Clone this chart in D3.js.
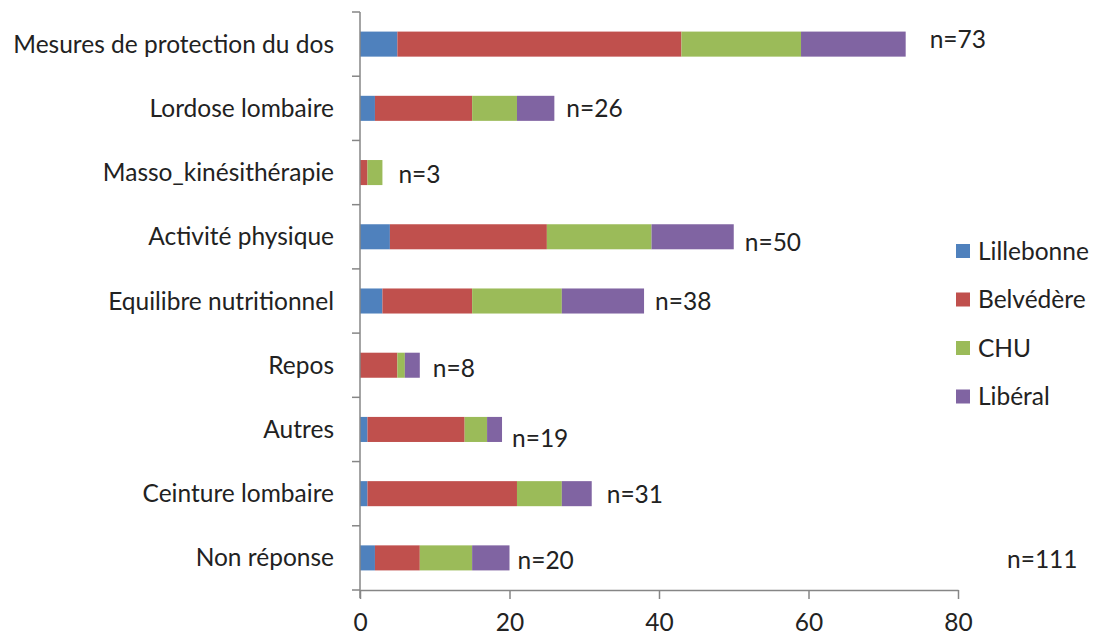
<!DOCTYPE html>
<html>
<head>
<meta charset="utf-8">
<script src="https://cdn.jsdelivr.net/npm/d3@7"></script>
<style>
  body { margin: 0; background: #fff; }
  text { font-family: Lato, "Open Sans", sans-serif; fill: #222; }
</style>
</head>
<body>
<div id="chart"></div>
<script>
// data
var categories = ["Mesures de protection du dos", "Lordose lombaire", "Masso_kinésithérapie",
  "Activité physique", "Equilibre nutritionnel", "Repos", "Autres", "Ceinture lombaire", "Non réponse"];
var seriesNames = ["Lillebonne", "Belvédère", "CHU", "Libéral"];
var lillebonne = [5, 2, 0, 4, 3, 0, 1, 1, 2];
var belvedere  = [38, 13, 1, 21, 12, 5, 13, 20, 6];
var chu        = [16, 6, 2, 14, 12, 1, 3, 6, 7];
var liberal    = [14, 5, 0, 11, 11, 2, 2, 4, 5];
var totalLabel = "n=111";
var xTicks = [0, 20, 40, 60, 80];

// hand-placed n= labels in the original, nudged from the bar end
var labelNudge = [[24, -5], [12, 0], [16, 2], [11, 6], [11, 0], [13, 3], [10, 9], [15, 1], [8, 3]];

var colors = ["#4F81BD", "#C0504D", "#9BBB59", "#8064A2"];

var width = 1099, height = 637;
var plotLeft = 360, plotRight = 958, plotTop = 12, plotBottom = 590;
var fontSize = "24.5px";

var rows = categories.map(function(c, i) {
  return {cat: c, Lillebonne: lillebonne[i], "Belvédère": belvedere[i], CHU: chu[i], "Libéral": liberal[i]};
});
var total = function(d) { return d.Lillebonne + d["Belvédère"] + d.CHU + d["Libéral"]; };

var svg = d3.select("#chart").append("svg")
  .attr("width", width).attr("height", height);

var x = d3.scaleLinear().domain([0, 80]).range([plotLeft, plotRight]);
var y = d3.scaleBand().domain(categories).range([plotTop, plotBottom]).paddingInner(0.61).paddingOuter(0.305);
var color = d3.scaleOrdinal().domain(seriesNames).range(colors);

var stack = d3.stack().keys(seriesNames)(rows);

svg.append("g").selectAll("g")
  .data(stack).enter().append("g")
  .attr("fill", function(d) { return color(d.key); })
  .selectAll("rect")
  .data(function(d) { return d; }).enter().append("rect")
  .attr("x", function(d) { return x(d[0]); })
  .attr("width", function(d) { return x(d[1]) - x(d[0]); })
  .attr("y", function(d) { return y(d.data.cat); })
  .attr("height", y.bandwidth());

// x axis
var xAxis = svg.append("g")
  .attr("transform", "translate(0," + plotBottom + ")")
  .call(d3.axisBottom(x).tickValues(xTicks).tickSize(9).tickPadding(15).tickSizeOuter(0));
xAxis.select(".domain").attr("stroke", "#868686").attr("stroke-width", 1.5);
xAxis.selectAll(".tick line").attr("stroke", "#868686").attr("stroke-width", 1.5);
xAxis.selectAll("text").style("font-size", fontSize).style("font-family", "Lato, sans-serif").attr("fill", "#222");

// y axis: line plus ticks at band boundaries
var nCat = categories.length;
svg.append("line").attr("x1", plotLeft).attr("x2", plotLeft).attr("y1", plotTop).attr("y2", plotBottom + 8)
  .attr("stroke", "#868686").attr("stroke-width", 1.5);
svg.append("g").selectAll("line")
  .data(d3.range(nCat + 1)).enter().append("line")
  .attr("x1", plotLeft - 8).attr("x2", plotLeft)
  .attr("y1", function(i) { return plotTop + i * (plotBottom - plotTop) / nCat; })
  .attr("y2", function(i) { return plotTop + i * (plotBottom - plotTop) / nCat; })
  .attr("stroke", "#868686").attr("stroke-width", 1.5);

svg.append("g").selectAll("text")
  .data(categories).enter().append("text")
  .attr("x", plotLeft - 26)
  .attr("y", function(d) { return y(d) + y.bandwidth() / 2; })
  .attr("dy", "0.35em")
  .attr("text-anchor", "end")
  .style("font-size", fontSize)
  .text(function(d) { return d; });

// n= labels
svg.append("g").selectAll("text")
  .data(rows).enter().append("text")
  .attr("x", function(d, i) { return x(total(d)) + labelNudge[i][0]; })
  .attr("y", function(d, i) { return y(d.cat) + y.bandwidth() / 2 + labelNudge[i][1]; })
  .attr("dy", "0.35em")
  .style("font-size", fontSize)
  .text(function(d) { return "n=" + total(d); });

svg.append("text")
  .attr("x", 1007).attr("y", 568)
  .style("font-size", fontSize)
  .text(totalLabel);

// legend
var legend = svg.append("g").selectAll("g")
  .data(seriesNames).enter().append("g")
  .attr("transform", function(d, i) { return "translate(956," + (251 + i * 48.5) + ")"; });
legend.append("rect").attr("x", 0).attr("y", -7).attr("width", 14).attr("height", 14)
  .attr("fill", function(d) { return color(d); });
legend.append("text").attr("x", 22).attr("y", 0).attr("dy", "0.35em")
  .style("font-size", fontSize)
  .text(function(d) { return d; });
</script>
</body>
</html>
